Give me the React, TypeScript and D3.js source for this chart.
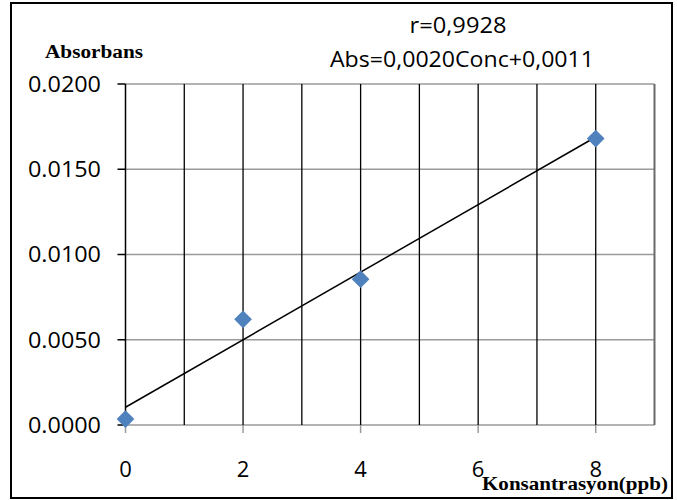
import React from "react";
import * as d3 from "d3";

const concentrations = [0, 2, 4, 8];
const absorbances = [0.00035, 0.0062, 0.00855, 0.0168];
const xTicks = [0, 2, 4, 6, 8];
const xGrid = [1, 2, 3, 4, 5, 6, 7, 8];
const yTicks = [0, 0.005, 0.01, 0.015, 0.02];
const titleLines = ["r=0,9928", "Abs=0,0020Conc+0,0011"];
const yAxisTitle = "Absorbans";
const xAxisTitle = "Konsantrasyon(ppb)";

export default function App() {
  const W = 677, H = 500;
  const x = d3.scaleLinear().domain([0, 9]).range([125.5, 654.5]);
  const y = d3.scaleLinear().domain([0, 0.02]).range([425, 84]);

  const n = concentrations.length;
  const mx = d3.mean(concentrations) as number;
  const my = d3.mean(absorbances) as number;
  let sxy = 0, sxx = 0;
  for (let i = 0; i < n; i++) {
    sxy += (concentrations[i] - mx) * (absorbances[i] - my);
    sxx += (concentrations[i] - mx) ** 2;
  }
  const slope = sxy / sxx;
  const intercept = my - slope * mx;
  const x0 = d3.min(concentrations) as number;
  const x1 = d3.max(concentrations) as number;
  const line = d3.line<number>().x((d) => x(d)).y((d) => y(intercept + slope * d));

  const diamond = d3.symbol().type(d3.symbolDiamond2).size(200)();

  const sans = "'Open Sans', 'Liberation Sans', sans-serif";
  const serif = "'Liberation Serif', 'Times New Roman', serif";

  return (
    <svg width={W} height={H} style={{ position: "absolute", left: 0, top: 0 }}>
      <rect x={0} y={0} width={W} height={H} fill="#fff" />
      <rect x={11} y={3} width={661} height={495} fill="none" stroke="#000" strokeWidth={2} />

      {yTicks.map((t) => (
        <line key={"h" + t} x1={x(0)} x2={x(9)} y1={y(t)} y2={y(t)} stroke="#9a9a9a" strokeWidth={1.5} />
      ))}
      {xTicks.map((t) => (
        <line key={"xt" + t} x1={x(t)} x2={x(t)} y1={y(0)} y2={y(0) + 8} stroke="#9a9a9a" strokeWidth={1.5} />
      ))}
      {xGrid.map((t) => (
        <line key={"v" + t} x1={x(t)} x2={x(t)} y1={y(0.02)} y2={y(0)} stroke="#000" strokeWidth={1.3} />
      ))}
      <line x1={x(9)} x2={x(9)} y1={y(0.02)} y2={y(0)} stroke="#6a6a6a" strokeWidth={2} />
      <line x1={x(0)} x2={x(0)} y1={y(0.02)} y2={y(0)} stroke="#000" strokeWidth={1.5} />
      {yTicks.map((t) => (
        <line key={"yt" + t} x1={x(0) - 8} x2={x(0)} y1={y(t)} y2={y(t)} stroke="#000" strokeWidth={1.5} />
      ))}

      {yTicks.map((t) => (
        <text key={"yl" + t} x={101} y={y(t)} dy="0.36em" textAnchor="end" fontFamily={sans} fontSize={22} textLength={73} lengthAdjust="spacingAndGlyphs" fill="#000">
          {t.toFixed(4)}
        </text>
      ))}
      {xTicks.map((t) => (
        <text key={"xl" + t} x={x(t)} y={477} textAnchor="middle" fontFamily={sans} fontSize={22} fill="#000">
          {String(t)}
        </text>
      ))}

      <path d={line([x0, x1]) || ""} fill="none" stroke="#000" strokeWidth={1.5} />

      {concentrations.map((c, i) => (
        <path key={"m" + i} d={diamond || ""} transform={`translate(${x(c)},${y(absorbances[i])})`} fill="#4f81bd" />
      ))}

      <text x={458} y={33} textAnchor="middle" fontFamily={sans} fontSize={21} textLength={97} lengthAdjust="spacingAndGlyphs" fill="#000">
        {titleLines[0]}
      </text>
      <text x={462} y={67} textAnchor="middle" fontFamily={sans} fontSize={21} textLength={264} lengthAdjust="spacingAndGlyphs" fill="#000">
        {titleLines[1]}
      </text>
      <text x={45} y={58} fontFamily={serif} fontWeight="bold" fontSize={18} textLength={98} lengthAdjust="spacingAndGlyphs" fill="#000">
        {yAxisTitle}
      </text>
      <text x={482} y={490} fontFamily={serif} fontWeight="bold" fontSize={19} textLength={186} lengthAdjust="spacingAndGlyphs" fill="#000">
        {xAxisTitle}
      </text>
    </svg>
  );
}
